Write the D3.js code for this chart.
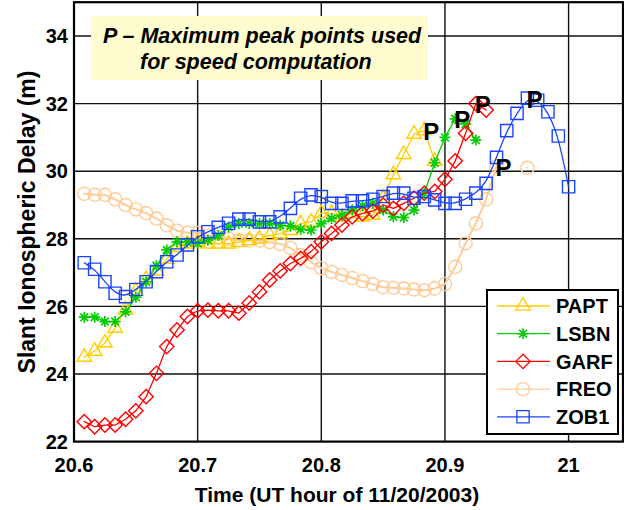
<!DOCTYPE html>
<html>
<head>
<meta charset="utf-8">
<script src="https://cdn.jsdelivr.net/npm/d3@7"></script>
<style>
body { margin: 0; background: #fff; }
svg text { font-family: "Liberation Sans", Arial, sans-serif; font-weight: bold; fill: #000; }
</style>
</head>
<body>
<div id="chart"></div>
<script>
// epochs every 30 s (UT hours)
const epochs = [20.6083, 20.6167, 20.625, 20.6333, 20.6417, 20.65, 20.6583, 20.6667, 20.675, 20.6833,
    20.6917, 20.7, 20.7083, 20.7167, 20.725, 20.7333, 20.7417, 20.75, 20.7583, 20.7667,
    20.775, 20.7833, 20.7917, 20.8, 20.8083, 20.8167, 20.825, 20.8333, 20.8417, 20.85,
    20.8583, 20.8667, 20.875, 20.8833, 20.8917, 20.9, 20.9083, 20.9167, 20.925, 20.9333,
    20.9417, 20.95, 20.9583, 20.9667, 20.975, 20.9833, 20.9917, 21.0];

const papt = [24.5, 24.68, 24.92, 25.36, 25.9, 26.45, 26.8, 27.05, 27.4, 27.75,
    27.85, 27.9, 27.85, 27.85, 27.85, 27.9, 27.95, 28.0, 28.1, 28.15,
    28.25, 28.45, 28.5, 28.75, 28.75, 28.65, 28.75, 28.65, 28.7, 29.2,
    29.9, 30.5, 31.1, 31.2, 30.3];
const lsbn = [25.68, 25.68, 25.55, 25.55, 25.84, 26.27, 26.73, 27.2, 27.67, 27.91,
    27.9, 27.87, 27.96, 28.1, 28.35, 28.45, 28.45, 28.45, 28.45, 28.4,
    28.38, 28.28, 28.26, 28.45, 28.6, 28.7, 28.85, 28.98, 29.05, 28.85,
    28.65, 28.63, 28.85, 29.35, 30.25, 31.0, 31.55, 31.4, 30.92];
const garf = [22.59, 22.44, 22.49, 22.49, 22.66, 22.91, 23.33, 24.02, 24.81, 25.3,
    25.7, 25.87, 25.89, 25.87, 25.87, 25.8, 26.1, 26.43, 26.78, 27.05,
    27.27, 27.42, 27.62, 27.91, 28.16, 28.41, 28.65, 28.75, 28.82, 29.0,
    28.9, 29.05, 29.2, 29.35, 29.4, 29.76, 30.3, 31.12, 32.0, 31.81];
const freo = [29.33, 29.3, 29.3, 29.17, 29.0, 28.87, 28.76, 28.6, 28.4, 28.24,
    28.18, 28.18, 28.1, 28.05, 28.0, 27.95, 27.95, 27.95, 27.9, 27.85,
    27.73, 27.52, 27.31, 27.13, 27.02, 26.93, 26.84, 26.75, 26.66, 26.57,
    26.55, 26.53, 26.5, 26.48, 26.53, 26.66, 27.17, 27.87, 28.46, 29.17,
    30.15, null, null, 30.1];
const zob1 = [27.29, 27.1, 26.73, 26.39, 26.29, 26.5, 26.73, 27.03, 27.32, 27.52,
    27.82, 28.06, 28.21, 28.34, 28.46, 28.58, 28.58, 28.5, 28.5, 28.65,
    28.9, 29.2, 29.3, 29.25, 29.05, 29.05, 29.12, 29.12, 29.17, 29.25,
    29.35, 29.35, 29.2, 29.25, 29.15, 29.05, 29.05, 29.17, 29.35, 29.64,
    30.41, 31.2, 31.71, 32.16, 32.1, 31.76, 31.04, 29.54];

const stations = ["PAPT", "LSBN", "GARF", "FREO", "ZOB1"];
const peakIndex = [33, 36, 38, 40, 43];   // epoch index of the "P" mark per station

const xTicks = [20.6, 20.7, 20.8, 20.9, 21];
const xTickLabels = ["20.6", "20.7", "20.8", "20.9", "21"];
const yTicks = [22, 24, 26, 28, 30, 32, 34];

const seriesValues = [papt, lsbn, garf, freo, zob1];

// styles
const style = {
    PAPT: { color: "#FFCC00", marker: "triangle", width: 1.3 },
    LSBN: { color: "#00CC00", marker: "star", width: 1.3 },
    GARF: { color: "#FF0000", marker: "diamond", width: 1.3 },
    FREO: { color: "#FFCC99", marker: "circle", width: 2 },
    ZOB1: { color: "#1A44FF", marker: "square", width: 1.3, curve: d3.curveBasis }
};

const W = 624, H = 510;
const svg = d3.select("#chart").append("svg")
    .attr("width", W).attr("height", H);

const x = d3.scaleLinear().domain([20.6, 21.044]).range([74, 623]);
const y = d3.scaleLinear().domain([22, 35]).range([441.6, 2.2]);

// grid
svg.append("g")
    .selectAll("line.vg")
    .data(xTicks.slice(1))
    .enter().append("line")
    .attr("x1", d => x(d)).attr("x2", d => x(d))
    .attr("y1", y(35)).attr("y2", y(22))
    .attr("stroke", "#111").attr("stroke-width", 1.4);
svg.append("g")
    .selectAll("line.hg")
    .data(yTicks.slice(1))
    .enter().append("line")
    .attr("x1", x.range()[0]).attr("x2", x.range()[1])
    .attr("y1", d => y(d)).attr("y2", d => y(d))
    .attr("stroke", "#111").attr("stroke-width", 1.4);

function markerPath(kind) {
    switch (kind) {
        case "triangle": return d3.symbol(d3.symbolTriangle, 90)();
        case "square": return d3.symbol(d3.symbolSquare, 150)();
        case "diamond": return "M0,-7.2L7.2,0L0,7.2L-7.2,0Z";
        case "circle": return d3.symbol(d3.symbolCircle, 135)();
        case "star": return "M-5.5,0L5.5,0M0,-5.5L0,5.5M-3.9,-3.9L3.9,3.9M-3.9,3.9L3.9,-3.9";
    }
}

const drawOrder = [3, 0, 1, 2, 4];
drawOrder.forEach(k => {
    const name = stations[k];
    const st = style[name];
    const pts = seriesValues[k].map((v, i) => ({ t: epochs[i], v: v }));
    const g = svg.append("g");

    const line = d3.line()
        .defined(d => d.v != null)
        .x(d => x(d.t)).y(d => y(d.v))
        .curve(st.curve || d3.curveLinear);

    g.append("path")
        .datum(pts)
        .attr("d", line)
        .attr("fill", "none")
        .attr("stroke", st.color)
        .attr("stroke-width", st.width)
        .attr("stroke-linecap", "round")
        .attr("stroke-linejoin", "round");

    g.selectAll("path.mk")
        .data(pts.filter(d => d.v != null))
        .enter().append("path")
        .attr("class", "mk")
        .attr("transform", d => "translate(" + x(d.t) + "," + y(d.v) + ")")
        .attr("d", markerPath(st.marker))
        .attr("fill", "none")
        .attr("stroke", st.color)
        .attr("stroke-width", st.marker === "star" ? 1.7 : 1.4);
});

// frame
svg.append("rect")
    .attr("x", x.range()[0]).attr("y", y(35))
    .attr("width", x.range()[1] - x.range()[0])
    .attr("height", y(22) - y(35))
    .attr("fill", "none").attr("stroke", "#000").attr("stroke-width", 2.2);

// tick labels
svg.selectAll("text.xt")
    .data(xTicks)
    .enter().append("text")
    .attr("x", d => x(d)).attr("y", 472)
    .attr("text-anchor", "middle")
    .style("font-size", "20px")
    .text((d, i) => xTickLabels[i]);

svg.selectAll("text.yt")
    .data(yTicks)
    .enter().append("text")
    .attr("x", 68).attr("y", d => y(d))
    .attr("dy", "0.36em")
    .attr("text-anchor", "end")
    .style("font-size", "20px")
    .text(d => d);

// axis titles
svg.append("text")
    .attr("x", 337).attr("y", 502)
    .attr("text-anchor", "middle")
    .style("font-size", "21px")
    .text("Time (UT hour of 11/20/2003)");

svg.append("text")
    .attr("transform", "translate(35,222) rotate(-90)")
    .attr("text-anchor", "middle")
    .style("font-size", "23px")
    .text("Slant Ionospheric Delay (m)");

// peak labels
stations.forEach((name, k) => {
    const i = peakIndex[k];
    svg.append("text")
        .attr("x", x(epochs[i]) - 1)
        .attr("y", y(seriesValues[k][i]) + 9.5)
        .style("font-size", "24px")
        .text("P");
});

// annotation box
svg.append("rect")
    .attr("x", 91).attr("y", 16).attr("width", 337).attr("height", 64)
    .attr("fill", "#FFFCCF");
svg.append("text")
    .attr("x", 103).attr("y", 43)
    .style("font-size", "21.5px").style("font-style", "italic")
    .text("P \u2013 Maximum peak points used");
svg.append("text")
    .attr("x", 140).attr("y", 69)
    .style("font-size", "21.5px").style("font-style", "italic")
    .text("for speed computation");

// legend
const legend = svg.append("g");
legend.append("rect")
    .attr("x", 487).attr("y", 290).attr("width", 131).attr("height", 144)
    .attr("fill", "#fff").attr("stroke", "#000").attr("stroke-width", 2);

stations.forEach((name, k) => {
    const st = style[name];
    const cy = 306 + k * 27.7;
    legend.append("line")
        .attr("x1", 497).attr("x2", 550).attr("y1", cy).attr("y2", cy)
        .attr("stroke", st.color).attr("stroke-width", 1.3);
    legend.append("path")
        .attr("transform", "translate(523," + cy + ")")
        .attr("d", markerPath(st.marker))
        .attr("fill", "none").attr("stroke", st.color)
        .attr("stroke-width", st.marker === "star" ? 1.6 : 1.3);
    legend.append("text")
        .attr("x", 556).attr("y", cy)
        .attr("dy", "0.36em")
        .style("font-size", "20px")
        .text(name);
});
</script>
</body>
</html>
